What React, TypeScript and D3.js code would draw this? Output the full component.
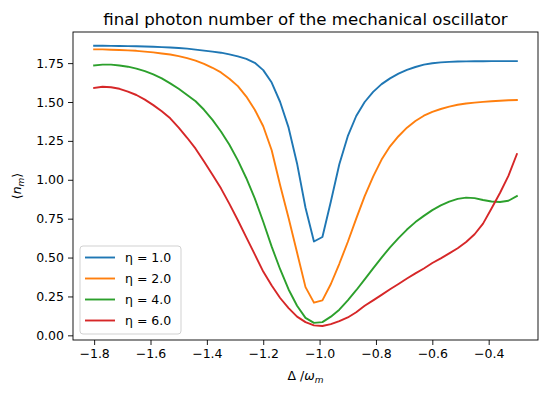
import { useEffect, useRef } from "react"
import * as d3 from "d3"

// detuning grid, step 0.03 from -1.8 to -0.3
const deltas: number[] = d3.range(51).map(i => +(-1.8 + i * 0.03).toFixed(2))

const etaLabels = ["η = 1.0", "η = 2.0", "η = 4.0", "η = 6.0"]
const colors = ["#1f77b4", "#ff7f0e", "#2ca02c", "#d62728"]

const eta1 = [
  1.862, 1.862, 1.861, 1.860, 1.859, 1.858, 1.857, 1.855, 1.853, 1.850,
  1.847, 1.843, 1.837, 1.830, 1.824, 1.817, 1.806, 1.793, 1.777, 1.752,
  1.705, 1.625, 1.500, 1.335, 1.105, 0.820, 0.603, 0.632, 0.860, 1.100,
  1.280, 1.410, 1.500, 1.565, 1.615, 1.652, 1.682, 1.706, 1.725, 1.740,
  1.749, 1.755, 1.758, 1.760, 1.761, 1.762, 1.762, 1.763, 1.763, 1.763,
  1.763,
]

const eta2 = [
  1.838, 1.838, 1.836, 1.834, 1.832, 1.829, 1.824, 1.819, 1.812, 1.805,
  1.795, 1.782, 1.766, 1.745, 1.720, 1.690, 1.650, 1.602, 1.535, 1.450,
  1.344, 1.190, 0.965, 0.755, 0.532, 0.310, 0.210, 0.225, 0.330, 0.460,
  0.600, 0.750, 0.895, 1.020, 1.130, 1.215, 1.280, 1.335, 1.378, 1.412,
  1.437, 1.455, 1.470, 1.482, 1.490, 1.496, 1.501, 1.505, 1.508, 1.511,
  1.513,
]

const eta4 = [
  1.735, 1.740, 1.740, 1.735, 1.727, 1.715, 1.698, 1.677, 1.652, 1.620,
  1.585, 1.545, 1.505, 1.450, 1.385, 1.310, 1.225, 1.125, 1.010, 0.880,
  0.730, 0.570, 0.425, 0.295, 0.190, 0.112, 0.080, 0.085, 0.120, 0.165,
  0.225, 0.290, 0.360, 0.430, 0.500, 0.565, 0.625, 0.680, 0.728, 0.768,
  0.805, 0.835, 0.860, 0.877, 0.885, 0.882, 0.870, 0.860, 0.857, 0.865,
  0.895,
]

const eta6 = [
  1.590, 1.598, 1.595, 1.585, 1.567, 1.545, 1.515, 1.480, 1.440, 1.395,
  1.335, 1.270, 1.200, 1.117, 1.032, 0.945, 0.845, 0.740, 0.630, 0.520,
  0.410, 0.320, 0.240, 0.175, 0.120, 0.085, 0.064, 0.060, 0.072, 0.092,
  0.115, 0.148, 0.190, 0.225, 0.260, 0.296, 0.330, 0.365, 0.398, 0.430,
  0.465, 0.495, 0.527, 0.560, 0.600, 0.650, 0.718, 0.815, 0.915, 1.025,
  1.165,
]

const series = [eta1, eta2, eta4, eta6]

const xTicks = [-1.8, -1.6, -1.4, -1.2, -1.0, -0.8, -0.6, -0.4]
const yTicks = [0, 0.25, 0.5, 0.75, 1.0, 1.25, 1.5, 1.75]

export default function App() {
  const svgRef = useRef<SVGSVGElement | null>(null)

  useEffect(() => {
    if (!svgRef.current) return

    const width = 548
    const height = 396
    const margin = { top: 32, right: 10, bottom: 56, left: 73 }
    const font = "DejaVu Sans"

    const svg = d3.select(svgRef.current)
    svg.selectAll("*").remove()

    const x = d3
      .scaleLinear()
      .domain([-1.875, -0.225])
      .range([margin.left, width - margin.right])

    const y = d3
      .scaleLinear()
      .domain([-0.03, 1.95])
      .range([height - margin.bottom, margin.top])

    const fmtMinus = (s: string) => s.replace("-", "\u2212")

    // X axis
    const gx = svg
      .append("g")
      .attr("transform", `translate(0, ${height - margin.bottom})`)
      .call(
        d3
          .axisBottom(x)
          .tickValues(xTicks)
          .tickSize(5)
          .tickPadding(4)
          .tickFormat(d => fmtMinus(d3.format(".1f")(d as number)))
      )
    gx.select(".domain").remove()

    // Y axis
    const gy = svg
      .append("g")
      .attr("transform", `translate(${margin.left}, 0)`)
      .call(
        d3
          .axisLeft(y)
          .tickValues(yTicks)
          .tickSize(5)
          .tickPadding(4)
          .tickFormat(d => d3.format(".2f")(d as number))
      )
    gy.select(".domain").remove()

    svg
      .selectAll(".tick text")
      .attr("font-family", font)
      .attr("font-size", 12.5)
      .attr("fill", "#000")
    svg.selectAll(".tick line").attr("stroke", "#000").attr("stroke-width", 0.9)

    // Lines
    const line = d3
      .line<number>()
      .x((_, i) => x(deltas[i]))
      .y(d => y(d))

    series.forEach((s, k) => {
      svg
        .append("path")
        .datum(s)
        .attr("fill", "none")
        .attr("stroke", colors[k])
        .attr("stroke-width", 1.9)
        .attr("stroke-linejoin", "round")
        .attr("stroke-linecap", "square")
        .attr("d", line)
    })

    // Frame
    svg
      .append("rect")
      .attr("x", margin.left)
      .attr("y", margin.top)
      .attr("width", width - margin.right - margin.left)
      .attr("height", height - margin.bottom - margin.top)
      .attr("fill", "none")
      .attr("stroke", "#000")
      .attr("stroke-width", 0.9)

    // Title
    svg
      .append("text")
      .attr("x", (margin.left + width - margin.right) / 2)
      .attr("y", 25)
      .attr("text-anchor", "middle")
      .attr("font-family", font)
      .attr("font-size", 16.6)
      .text("final photon number of the mechanical oscillator")

    // X label: Δ /ω_m
    const xl = svg
      .append("text")
      .attr("x", (margin.left + width - margin.right) / 2)
      .attr("y", 380)
      .attr("text-anchor", "middle")
      .attr("font-family", font)
      .attr("font-size", 12.5)
    xl.append("tspan").text("Δ /")
    xl.append("tspan").attr("font-style", "italic").text("ω")
    xl.append("tspan")
      .attr("font-style", "italic")
      .attr("font-size", 9)
      .attr("dy", 3)
      .text("m")

    // Y label: ⟨n_m⟩
    const yl = svg
      .append("text")
      .attr("transform", `translate(21, ${(margin.top + height - margin.bottom) / 2}) rotate(-90)`)
      .attr("text-anchor", "middle")
      .attr("font-family", font)
      .attr("font-size", 12.5)
    yl.append("tspan").text("⟨")
    yl.append("tspan").attr("font-style", "italic").text("n")
    yl.append("tspan")
      .attr("font-style", "italic")
      .attr("font-size", 9)
      .attr("dy", 3)
      .text("m")
    yl.append("tspan").attr("dy", -3).text("⟩")

    // Legend
    const lg = svg.append("g").attr("transform", `translate(80, 246)`)
    lg.append("rect")
      .attr("width", 101)
      .attr("height", 88)
      .attr("rx", 3)
      .attr("fill", "#fff")
      .attr("fill-opacity", 0.8)
      .attr("stroke", "#cccccc")
      .attr("stroke-width", 0.9)
    etaLabels.forEach((lab, k) => {
      const yy = 11.5 + k * 21
      lg.append("line")
        .attr("x1", 5)
        .attr("x2", 35)
        .attr("y1", yy)
        .attr("y2", yy)
        .attr("stroke", colors[k])
        .attr("stroke-width", 1.9)
      lg.append("text")
        .attr("x", 45)
        .attr("y", yy)
        .attr("dy", "0.35em")
        .attr("font-family", font)
        .attr("font-size", 12.5)
        .text(lab)
    })
  }, [])

  return (
    <div style={{ position: "absolute", left: 0, top: 0 }}>
      <svg ref={svgRef} width={548} height={396} style={{ display: "block" }} />
    </div>
  )
}
